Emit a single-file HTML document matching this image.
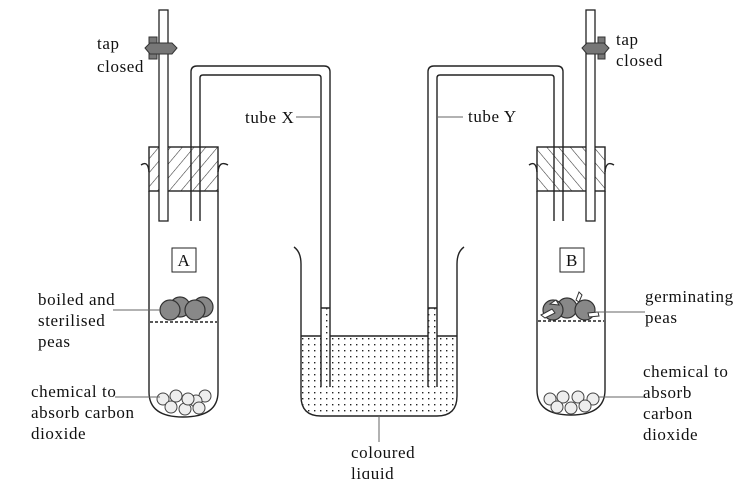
<!DOCTYPE html>
<html><head><meta charset="utf-8"><style>
html,body{margin:0;padding:0;background:#fff}
svg{display:block}
text{font-family:"Liberation Serif",serif;font-size:17px;letter-spacing:0.6px;fill:#111}
</style></head><body>
<svg width="752" height="479" viewBox="0 0 752 479" xmlns="http://www.w3.org/2000/svg">
<defs>
<pattern id="hl" width="9" height="9" patternUnits="userSpaceOnUse" patternTransform="rotate(40)">
<line x1="0" y1="0" x2="0" y2="9" stroke="#333" stroke-width="1.1"/></pattern>
<pattern id="hr" width="9" height="9" patternUnits="userSpaceOnUse" patternTransform="rotate(-40)">
<line x1="0" y1="0" x2="0" y2="9" stroke="#333" stroke-width="1.1"/></pattern>
<pattern id="dots" width="6" height="6" patternUnits="userSpaceOnUse">
<rect x="2" y="2" width="1.4" height="1.4" fill="#222"/></pattern>
</defs>
<g fill="none" stroke="#222" stroke-width="1.4">
<path d="M149,191 L149,392 Q149,417 183,417 Q218,417 218,392 L218,191"/>
<rect x="149" y="147" width="69" height="44" fill="url(#hl)"/>
<path d="M141,165 Q148,160 149,172 M228,165 Q219,160 218,172"/>
<path d="M537,191 L537,390 Q537,415 571,415 Q605,415 605,390 L605,191"/>
<rect x="537" y="147" width="68" height="44" fill="url(#hr)"/>
<path d="M529,165 Q536,160 537,172 M614,165 Q606,160 605,172"/>
</g>
<rect x="159" y="10" width="9" height="211" fill="#fff" stroke="#222" stroke-width="1.3"/>
<rect x="586" y="10" width="9" height="211" fill="#fff" stroke="#222" stroke-width="1.3"/>
<g fill="none" stroke="#222" stroke-width="1.4">
<path d="M191,221 L191,72 Q191,66 197,66 L324,66 Q330,66 330,72 L330,387"/>
<path d="M200,221 L200,78 Q200,75 203,75 L318,75 Q321,75 321,78 L321,387"/>
<path d="M428,387 L428,72 Q428,66 434,66 L557,66 Q563,66 563,72 L563,221"/>
<path d="M437,387 L437,78 Q437,75 440,75 L551,75 Q554,75 554,78 L554,221"/>
</g>
<path d="M301,336 L457,336 L457,396 Q457,416 437,416 L321,416 Q301,416 301,396 Z" fill="url(#dots)"/>
<rect x="321" y="308" width="9" height="28" fill="url(#dots)"/>
<rect x="428" y="308" width="9" height="28" fill="url(#dots)"/>
<g fill="none" stroke="#222" stroke-width="1.4">
<path d="M294,247 Q301,252 301,264 L301,396 Q301,416 321,416 L437,416 Q457,416 457,396 L457,264 Q457,252 464,247"/>
<path d="M301,336 L321,336 M330,336 L428,336 M437,336 L457,336"/>
<path d="M321,308 L330,308 M428,308 L437,308"/>
</g>
<g fill="#777" stroke="#333" stroke-width="1">
<rect x="149" y="37" width="8" height="22"/>
<path d="M145,48 L150,43 L172,43 L177,48 L172,54 L150,54 Z"/>
<rect x="598" y="37" width="7" height="22"/>
<path d="M582,48 L587,43 L604,43 L609,48 L604,54 L587,54 Z"/>
</g>
<rect x="172" y="248" width="24" height="24" fill="#fff" stroke="#222"/>
<text x="184" y="266" text-anchor="middle">A</text>
<rect x="560" y="248" width="24" height="24" fill="#fff" stroke="#222"/>
<text x="572" y="266" text-anchor="middle">B</text>
<g fill="#888" stroke="#333" stroke-width="1.2">
<circle cx="180" cy="307" r="10"/><circle cx="203" cy="307" r="10"/>
<circle cx="170" cy="310" r="10"/><circle cx="195" cy="310" r="10"/>
</g>
<line x1="150" y1="322" x2="217" y2="322" stroke="#222" stroke-width="1.6" stroke-dasharray="3,2"/>
<g fill="#888" stroke="#333" stroke-width="1.2">
<circle cx="567" cy="308" r="10"/><circle cx="553" cy="310" r="10"/><circle cx="585" cy="310" r="10"/>
</g>
<g fill="#fff" stroke="#333" stroke-width="1">
<path d="M541,315 L552,309 L555,313 L545,318 Z"/><path d="M550,304 L556,300 L559,305 Z"/>
<path d="M588,313 L598,312 L599,316 L589,317 Z"/><path d="M576,300 L579,292 L582,295 L579,302 Z"/>
</g>
<line x1="538" y1="321" x2="604" y2="321" stroke="#222" stroke-width="1.6" stroke-dasharray="3,2"/>
<g fill="#eee" stroke="#444" stroke-width="1">
<circle cx="163" cy="399" r="6"/><circle cx="176" cy="396" r="6"/><circle cx="205" cy="396" r="6"/><circle cx="196" cy="401" r="6"/>
<circle cx="171" cy="407" r="6"/><circle cx="185" cy="409" r="6"/><circle cx="199" cy="408" r="6"/><circle cx="188" cy="399" r="6"/>
<circle cx="550" cy="399" r="6"/><circle cx="563" cy="397" r="6"/><circle cx="578" cy="397" r="6"/><circle cx="593" cy="399" r="6"/>
<circle cx="557" cy="407" r="6"/><circle cx="571" cy="408" r="6"/><circle cx="585" cy="406" r="6"/>
</g>
<g stroke="#666" stroke-width="1">
<line x1="113" y1="310" x2="160" y2="310"/>
<line x1="115" y1="397" x2="160" y2="397"/>
<line x1="296" y1="117" x2="321" y2="117"/>
<line x1="437" y1="117" x2="463" y2="117"/>
<line x1="596" y1="312" x2="645" y2="312"/>
<line x1="598" y1="397" x2="645" y2="397"/>
<line x1="379" y1="416" x2="379" y2="442"/>
</g>
<text x="97" y="49">tap</text>
<text x="97" y="72">closed</text>
<text x="616" y="45">tap</text>
<text x="616" y="66">closed</text>
<text x="245" y="123">tube X</text>
<text x="468" y="122">tube Y</text>
<text x="38" y="305">boiled and</text>
<text x="38" y="326">sterilised</text>
<text x="38" y="347">peas</text>
<text x="31" y="397">chemical to</text>
<text x="31" y="418">absorb carbon</text>
<text x="31" y="439">dioxide</text>
<text x="645" y="302">germinating</text>
<text x="645" y="323">peas</text>
<text x="643" y="377">chemical to</text>
<text x="643" y="398">absorb</text>
<text x="643" y="419">carbon</text>
<text x="643" y="440">dioxide</text>
<text x="351" y="458">coloured</text>
<text x="351" y="479">liquid</text>
</svg>
</body></html>
